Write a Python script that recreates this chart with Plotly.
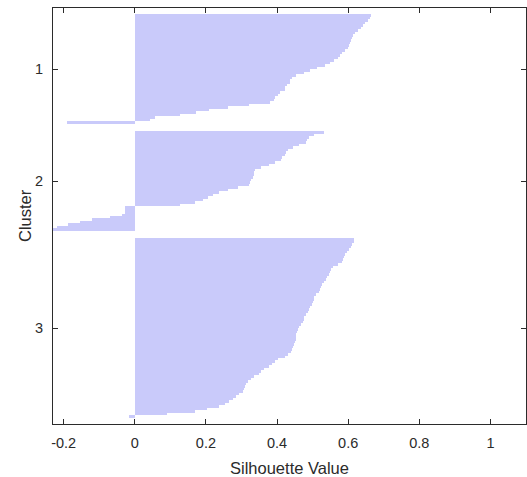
import plotly.graph_objects as go

# ---- data (silhouette values per point, per cluster) ----
cluster_names = ["1", "2", "3"]

cluster1 = [0.664, 0.662, 0.656, 0.648, 0.642, 0.636, 0.628, 0.620, 0.614, 0.611,
            0.608, 0.605, 0.603, 0.600, 0.592, 0.583, 0.578, 0.572, 0.561, 0.549,
            0.535, 0.513, 0.493, 0.477, 0.454, 0.443, 0.437, 0.435, 0.429, 0.423,
            0.421, 0.409, 0.404, 0.395, 0.390, 0.381, 0.322, 0.261, 0.210, 0.171,
            0.126, 0.056, 0.042, -0.190]

cluster2 = [0.533, 0.505, 0.491, 0.485, 0.482, 0.463, 0.446, 0.432, 0.426, 0.421,
            0.415, 0.412, 0.395, 0.378, 0.356, 0.339, 0.334, 0.334, 0.331, 0.328,
            0.325, 0.322, 0.289, 0.261, 0.238, 0.221, 0.207, 0.191, 0.168, 0.126,
            -0.028, -0.028, -0.028, -0.036, -0.070, -0.121, -0.154, -0.188, -0.219, -0.230]

cluster3 = [0.617, 0.615, 0.611, 0.607, 0.603, 0.597, 0.592, 0.589, 0.586, 0.582,
            0.572, 0.558, 0.552, 0.549, 0.545, 0.541, 0.538, 0.533, 0.527, 0.523,
            0.521, 0.517, 0.510, 0.505, 0.503, 0.500, 0.498, 0.492, 0.491, 0.488,
            0.482, 0.477, 0.477, 0.472, 0.468, 0.463, 0.458, 0.457, 0.454, 0.453,
            0.453, 0.450, 0.447, 0.444, 0.443, 0.439, 0.432, 0.421, 0.404, 0.395,
            0.387, 0.378, 0.364, 0.356, 0.348, 0.336, 0.328, 0.318, 0.313, 0.311,
            0.308, 0.303, 0.294, 0.285, 0.275, 0.266, 0.255, 0.238, 0.202, 0.168,
            0.090, -0.015]

x_tick_values = [-0.2, 0, 0.2, 0.4, 0.6, 0.8, 1]
x_tick_labels = ["-0.2", "0", "0.2", "0.4", "0.6", "0.8", "1"]

# ---- layout of bars the way a silhouette plot does it ----
clusters = [cluster1, cluster2, cluster3]
n = sum(len(c) for c in clusters)
space = max((2 * n) // 100, 2)
bar_pos, bar_val, tick_pos = [], [], []
pos = space
for c in clusters:
    vals = sorted(c, reverse=True)
    start = pos + 1
    for v in vals:
        pos += 1
        bar_pos.append(pos)
        bar_val.append(v)
    tick_pos.append((start + pos) / 2)
    pos += space
n_rows = pos
all_vals = [v for c in clusters for v in c]
x_min = min(0, min(all_vals))

FONT = "Liberation Sans, Arial, sans-serif"
AX = "#2b2b2b"

fig = go.Figure(go.Bar(
    x=bar_val, y=bar_pos, orientation="h", width=1.0,
    marker=dict(color="rgb(201,202,250)", line=dict(width=0)),
    hoverinfo="x+y",
))

fig.update_layout(
    width=527, height=477,
    margin=dict(l=53, r=1, t=8, b=53),
    paper_bgcolor="white", plot_bgcolor="white",
    showlegend=False,
    bargap=0,
    font=dict(family=FONT, size=14.5, color=AX),
)
fig.update_xaxes(
    range=[x_min, 1.1], tickvals=x_tick_values, ticktext=x_tick_labels,
    showgrid=False, zeroline=False, automargin=False,
    showline=True, linecolor=AX, linewidth=1, mirror="ticks",
    ticks="inside", ticklen=5, tickcolor=AX,
    ticklabelstandoff=6,
    tickfont=dict(size=14.5, family=FONT, color=AX),
)
fig.update_yaxes(
    range=[n_rows, 1], tickvals=tick_pos, ticktext=cluster_names,
    showgrid=False, zeroline=False, automargin=False,
    showline=True, linecolor=AX, linewidth=1, mirror="ticks",
    ticks="inside", ticklen=5, tickcolor=AX,
    ticklabelstandoff=6,
    tickfont=dict(size=14.5, family=FONT, color=AX),
)
fig.add_annotation(text="Silhouette Value", xref="paper", yref="paper",
                   x=0.5, y=-(467.5 - 424) / 416, xanchor="center", yanchor="middle",
                   showarrow=False, font=dict(size=16.5, family=FONT, color=AX))
fig.add_annotation(text="Cluster", xref="paper", yref="paper",
                   x=-(53 - 25) / 473, y=0.5, xanchor="center", yanchor="middle",
                   textangle=-90, showarrow=False,
                   font=dict(size=16.5, family=FONT, color=AX))

fig.write_html("out.html",
               config={"displayModeBar": False},
               post_script="document.body.style.margin='0';document.body.style.overflow='hidden';")
